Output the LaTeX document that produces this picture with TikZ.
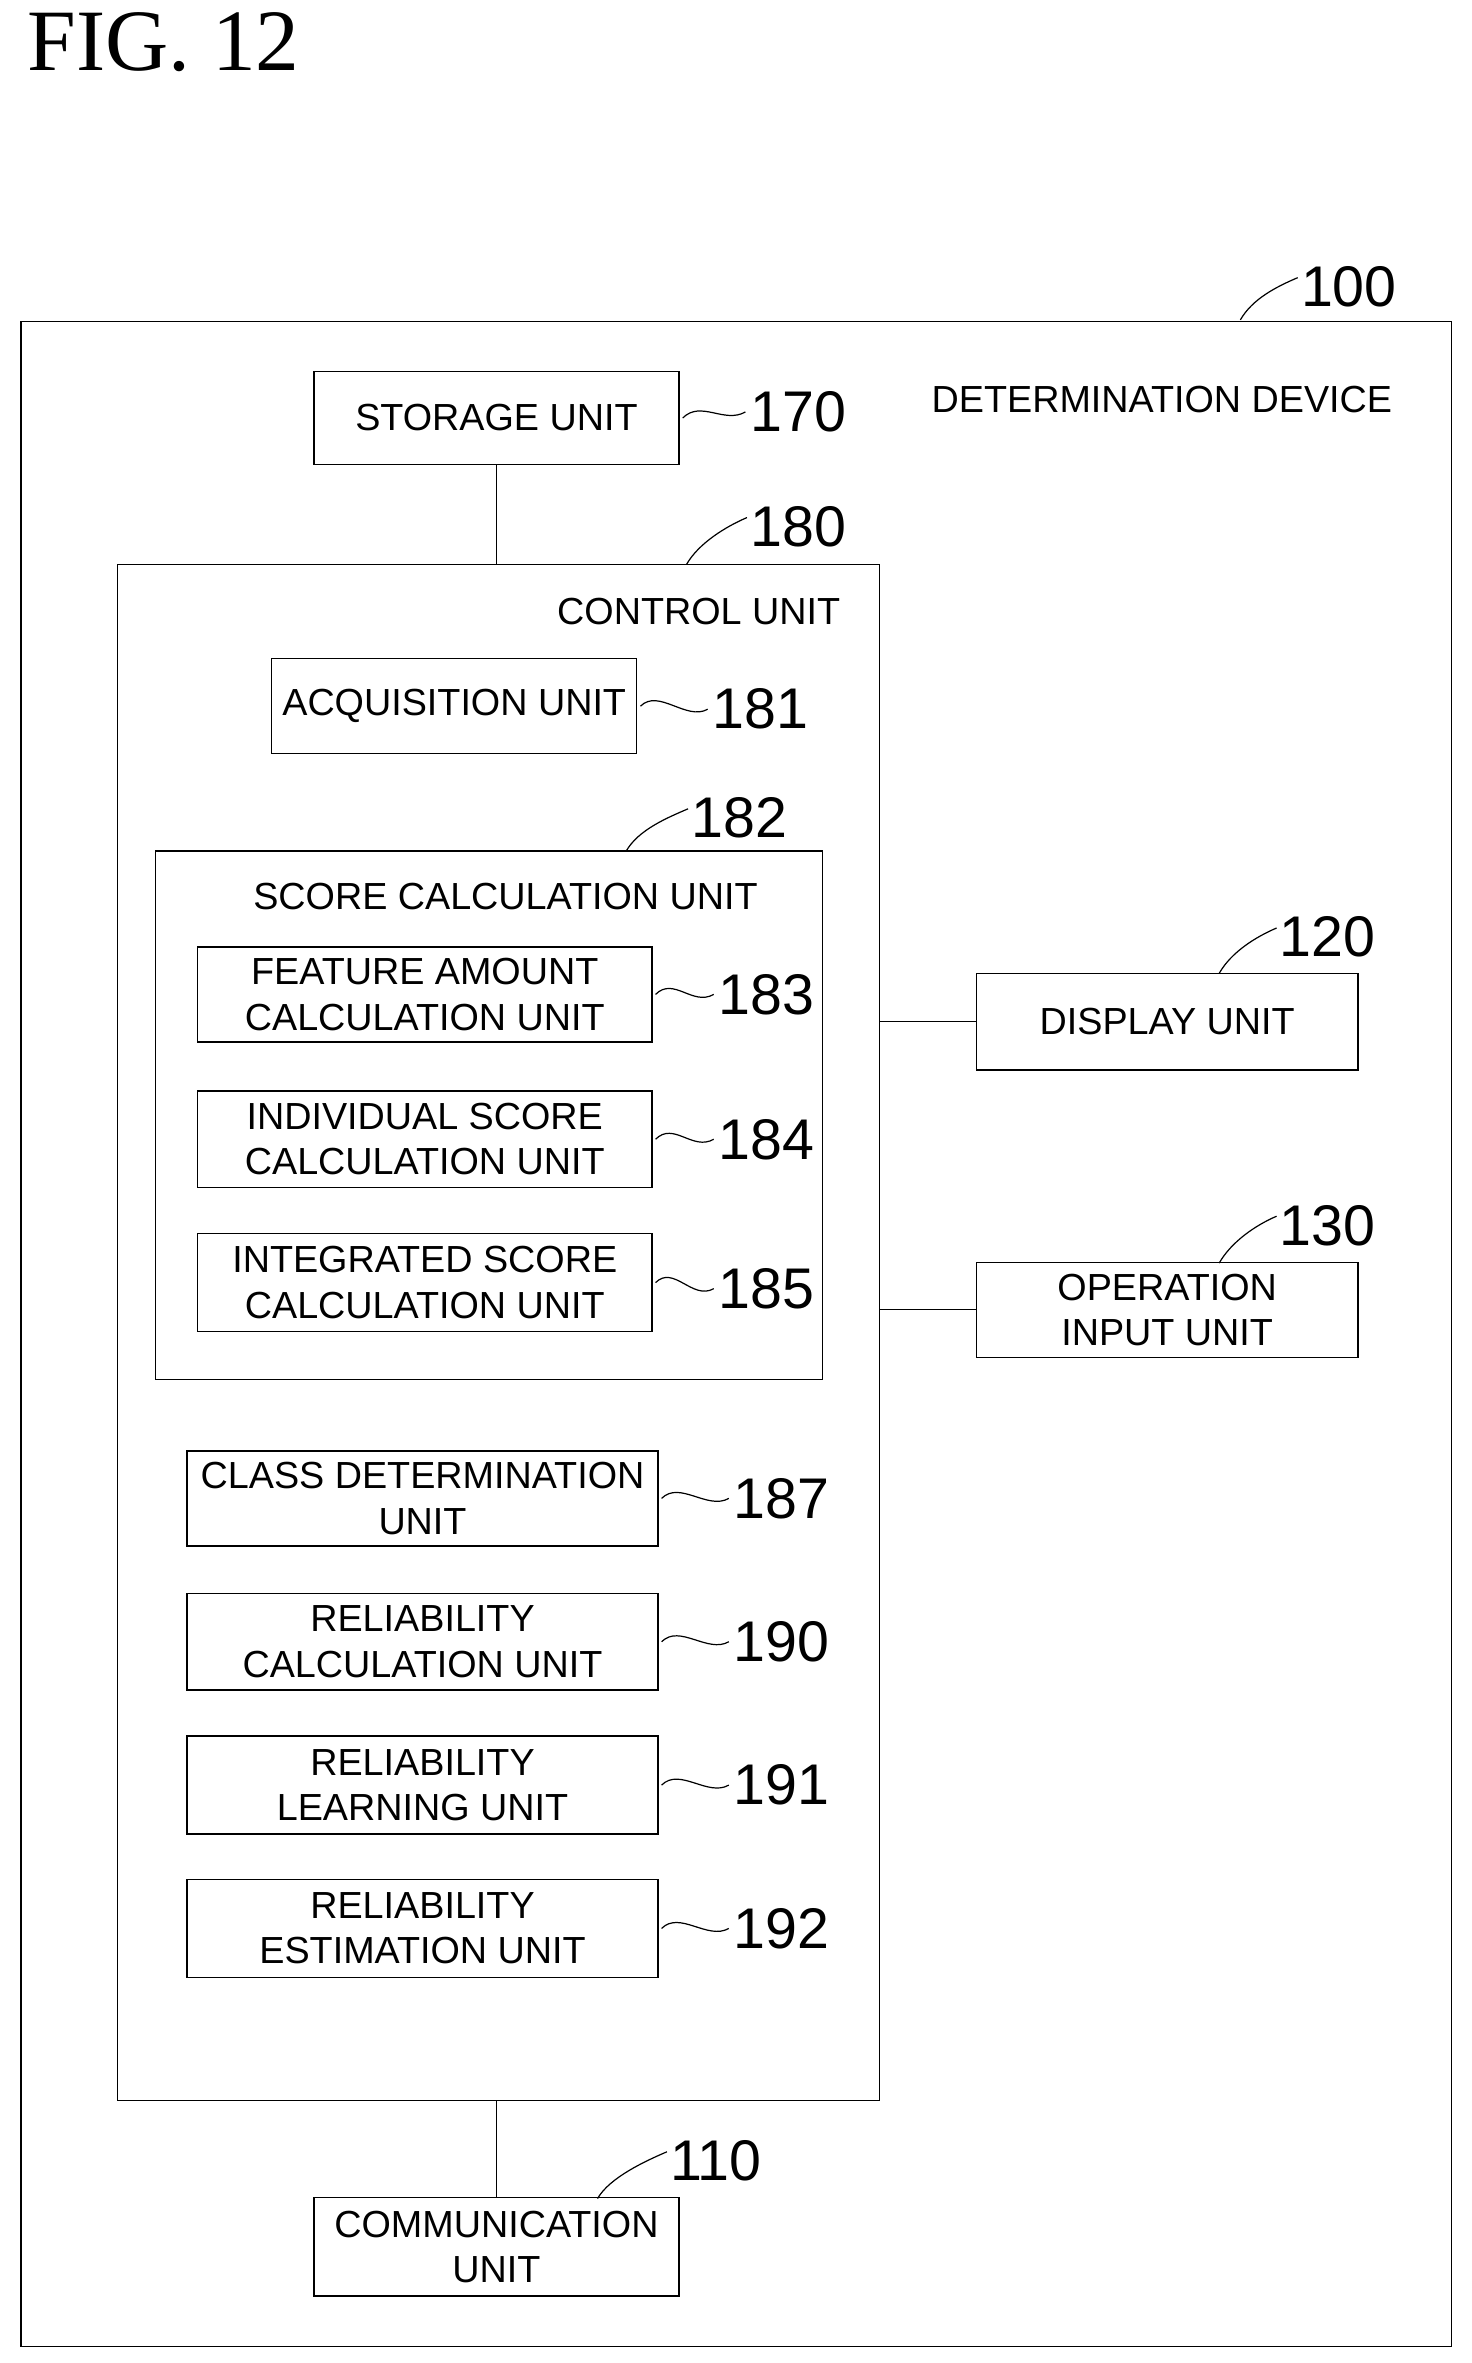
\documentclass[tikz,border=0pt]{standalone}
\usepackage{fontspec}
\setmainfont{Liberation Sans}
\newfontfamily\serif{Liberation Serif}
\begin{document}
\begin{tikzpicture}[x=1pt,y=-1pt,
  lbl/.style={font=\fontsize{25}{30}\selectfont, align=center, inner sep=0pt},
  bx/.style={draw, line width=0.9pt, lbl},
  num/.style={font=\fontsize{38}{38}\selectfont, inner sep=0pt, anchor=west},
  ln/.style={line width=0.9pt},
  sq/.style={line width=0.8pt}]
\useasboundingbox (0,0) rectangle (975,1566);
\node[font=\serif\fontsize{58}{58}\selectfont, anchor=west, inner sep=0pt] (fig) at (18,28) {FIG. 12};
% outer
\node[draw, line width=0.9pt, minimum width=948pt, minimum height=1342pt, inner sep=0pt] (dev) at (488,884) {};
\node[lbl] (devl) at (770,265) {DETERMINATION DEVICE};
\node[num] (n100) at (862,190) {100};
\coordinate (s100) at (822,212);
% storage
\node[bx, minimum width=242pt, minimum height=62pt] (sto) at (329,277) {STORAGE UNIT};
\node[num] (n170) at (497,273) {170};
% control
\node[draw, line width=0.9pt, minimum width=505pt, minimum height=1018pt, inner sep=0pt] (ctl) at (330.5,883) {};
\node[lbl] at (463,405) {CONTROL UNIT};
\node[num] (n180) at (497,349) {180};
\coordinate (s180) at (455,374);
\node[bx, minimum width=242pt, minimum height=63pt] (acq) at (301,468) {ACQUISITION UNIT};
\node[num] (n181) at (472,470) {181};
% score
\node[draw, line width=0.9pt, minimum width=442pt, minimum height=350pt, inner sep=0pt] (sc) at (324,739) {};
\node[lbl] at (335,594) {SCORE CALCULATION UNIT};
\node[num] (n182) at (458,542) {182};
\coordinate (s182) at (415,564);
\node[bx, minimum width=301pt, minimum height=63pt] (fe) at (281.5,659) {FEATURE AMOUNT\\CALCULATION UNIT};
\node[num] (n183) at (476,659) {183};
\node[bx, minimum width=301pt, minimum height=64pt] (in) at (281.5,755) {INDIVIDUAL SCORE\\CALCULATION UNIT};
\node[num] (n184) at (476,755) {184};
\node[bx, minimum width=301pt, minimum height=65pt] (ig) at (281.5,850) {INTEGRATED SCORE\\CALCULATION UNIT};
\node[num] (n185) at (476,854) {185};
% others
\node[bx, minimum width=312pt, minimum height=63pt] (cd) at (280,993) {CLASS DETERMINATION\\UNIT};
\node[num] (n187) at (486,993) {187};
\node[bx, minimum width=312pt, minimum height=64pt] (rc) at (280,1088) {RELIABILITY\\CALCULATION UNIT};
\node[num] (n190) at (486,1088) {190};
\node[bx, minimum width=312pt, minimum height=65pt] (rl) at (280,1183) {RELIABILITY\\LEARNING UNIT};
\node[num] (n191) at (486,1183) {191};
\node[bx, minimum width=312pt, minimum height=65pt] (re) at (280,1278) {RELIABILITY\\ESTIMATION UNIT};
\node[num] (n192) at (486,1278) {192};
% right
\node[bx, minimum width=253pt, minimum height=64pt] (dis) at (773.5,677) {DISPLAY UNIT};
\node[num] (n120) at (848,621) {120};
\coordinate (s120) at (808,645);
\node[bx, minimum width=253pt, minimum height=63pt] (op) at (773.5,868) {OPERATION\\INPUT UNIT};
\node[num] (n130) at (848,812) {130};
\coordinate (s130) at (808,837);
% comm
\node[bx, minimum width=242pt, minimum height=65pt] (com) at (329,1489) {COMMUNICATION\\UNIT};
\node[num] (n110) at (444,1432) {110};
\coordinate (s110) at (396,1457);
% connectors
\draw[ln] (sto.south) -- (sto.south |- ctl.north);
\draw[ln] (com.north) -- (com.north |- ctl.south);
\draw[ln] (dis.west) -- (dis.west -| ctl.east);
\draw[ln] (op.west) -- (op.west -| ctl.east);
% squiggles (horizontal)
\foreach \b/\n in {sto/n170,acq/n181,fe/n183,in/n184,ig/n185,cd/n187,rc/n190,rl/n191,re/n192}{
  \draw[sq] ([xshift=2pt]\b.east) .. controls +(12,-12) and +(-14,8) .. ([xshift=-3pt]\n.west);
}
% squiggles (rising)
\foreach \s/\n in {s100/n100,s180/n180,s182/n182,s120/n120,s130/n130,s110/n110}{
  \draw[sq] (\s) .. controls +(8,-14) and +(-14,6) .. ([xshift=-2pt,yshift=6pt]\n.west);
}
\end{tikzpicture}
\end{document}
